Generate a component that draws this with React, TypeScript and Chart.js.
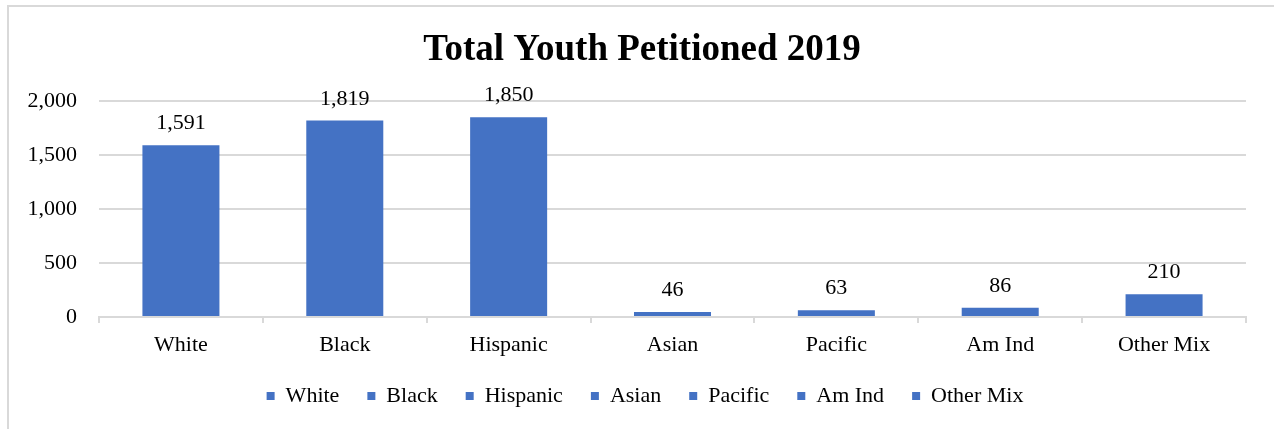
import React, { useEffect, useRef } from "react";
import { Chart, registerables } from "chart.js";

Chart.register(...registerables);

const categories = ["White", "Black", "Hispanic", "Asian", "Pacific", "Am Ind", "Other Mix"];
const values = [1591, 1819, 1850, 46, 63, 86, 210];
const yTicks = [0, 500, 1000, 1500, 2000];

const BAR_COLOR = "#4472C4";
const GRID_COLOR = "#d9d9d9";
const FONT = "'Liberation Serif', 'Times New Roman', serif";

const fmt = (v: number) => v.toLocaleString("en-US");

const dataLabels = {
  id: "dataLabels",
  afterDatasetsDraw(chart: any) {
    const ctx = chart.ctx;
    const meta = chart.getDatasetMeta(0);
    ctx.save();
    ctx.font = `22px ${FONT}`;
    ctx.fillStyle = "#000";
    ctx.textAlign = "center";
    ctx.textBaseline = "alphabetic";
    meta.data.forEach((bar: any, i: number) => {
      ctx.fillText(fmt(values[i]), bar.x, bar.y - 16);
    });
    ctx.restore();
  },
};

// Centre title and legend on the plot rather than the whole canvas, as in the original
const shiftBoxes = {
  id: "shiftBoxes",
  afterLayout(chart: any) {
    const legend = chart.legend;
    if (legend) {
      legend.left += 22;
      legend.right += 22;
    }
    const title = chart.titleBlock;
    if (title) {
      title.left += 19;
      title.right += 19;
    }
  },
};

export default function App() {
  const ref = useRef<HTMLCanvasElement>(null);
  useEffect(() => {
    if (!ref.current) return;
    const chart = new Chart(ref.current, {
      type: "bar",
      data: {
        labels: categories,
        datasets: [
          {
            label: "Total",
            data: values,
            backgroundColor: BAR_COLOR,
            borderWidth: 0,
            categoryPercentage: 1,
            barPercentage: 0.47,
          },
        ],
      },
      options: {
        responsive: false,
        animation: false,
        layout: { padding: { left: 0, right: 28, top: 0, bottom: 12 } },
        plugins: {
          title: {
            display: true,
            text: "Total Youth Petitioned 2019",
            color: "#000",
            font: { family: FONT, size: 37, weight: "bold" },
            padding: { top: 28, bottom: 28.6 },
          },
          legend: {
            position: "bottom",
            onClick: () => {},
            labels: {
              color: "#000",
              font: { family: FONT, size: 22 },
              boxWidth: 8,
              boxHeight: 8,
              padding: 28,
              generateLabels: () =>
                categories.map((c, i) => ({
                  text: c,
                  fillStyle: BAR_COLOR,
                  strokeStyle: BAR_COLOR,
                  lineWidth: 0,
                  hidden: false,
                  index: i,
                  datasetIndex: 0,
                })),
            },
          },
          tooltip: { enabled: false },
        },
        scales: {
          x: {
            grid: {
              display: true,
              drawOnChartArea: false,
              drawTicks: true,
              tickLength: 6,
              color: GRID_COLOR,
              lineWidth: 2,
            },
            border: { display: true, color: GRID_COLOR, width: 2 },
            ticks: {
              color: "#000",
              font: { family: FONT, size: 22 },
              padding: 9,
              maxRotation: 0,
            },
            afterFit: (scale: any) => {
              scale.height = 40;
            },
          },
          y: {
            min: 0,
            max: 2000,
            afterBuildTicks: (scale: any) => {
              scale.ticks = yTicks.map((v) => ({ value: v }));
            },
            grid: { color: GRID_COLOR, lineWidth: 2, drawTicks: false },
            border: { display: false },
            ticks: {
              color: "#000",
              font: { family: FONT, size: 22 },
              padding: 22,
              callback: (v: any) => fmt(Number(v)),
            },
            afterFit: (scale: any) => {
              scale.width = 99;
            },
          },
        },
      },
      plugins: [dataLabels, shiftBoxes],
    });
    return () => chart.destroy();
  }, []);

  return (
    <div
      style={{
        position: "fixed",
        left: 0,
        top: 0,
        width: 1274,
        height: 429,
        background: "#fff",
        overflow: "hidden",
      }}
    >
      <div
        style={{
          position: "absolute",
          left: 7,
          top: 5,
          width: 1300,
          height: 460,
          borderLeft: `2px solid ${GRID_COLOR}`,
          borderTop: `2px solid ${GRID_COLOR}`,
          boxSizing: "border-box",
        }}
      />
      <canvas
        ref={ref}
        width={1274}
        height={429}
        style={{ position: "absolute", left: 0, top: 0 }}
      />
    </div>
  );
}
